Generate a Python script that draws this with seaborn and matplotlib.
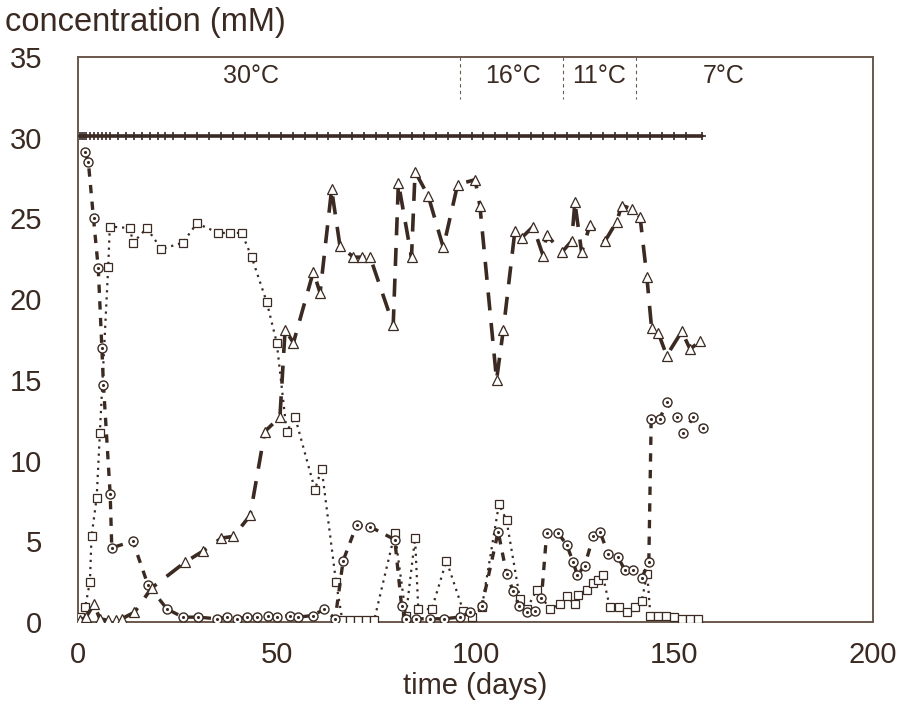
import matplotlib
matplotlib.use("Agg")
import matplotlib.pyplot as plt
import seaborn as sns
import pandas as pd

# ---------------- data ----------------
total_days = [0.5, 1, 1.5, 2, 3, 4, 5, 6, 7, 8, 10, 12, 14, 16, 18, 20, 22, 24,
              27, 30, 33, 36, 39, 42, 45, 48, 51, 54, 57, 60, 63, 66, 69, 72,
              75, 78, 81, 84, 87, 90, 93, 96, 99, 102, 105, 108, 111, 114, 117,
              120, 123, 126, 129, 132, 135, 138, 141, 144, 147, 150, 153, 157]
total_vals = [30.1, 30.1, 30.1, 30.1, 30.1, 30.1, 30.1, 30.1, 30.1, 30.1, 30.1,
              30.1, 30.1, 30.1, 30.1, 30.1, 30.1, 30.1, 30.1, 30.1, 30.1, 30.1,
              30.1, 30.1, 30.1, 30.1, 30.1, 30.1, 30.1, 30.1, 30.1, 30.1, 30.1,
              30.1, 30.1, 30.1, 30.1, 30.1, 30.1, 30.1, 30.1, 30.1, 30.1, 30.1,
              30.1, 30.1, 30.1, 30.1, 30.1, 30.1, 30.1, 30.1, 30.1, 30.1, 30.1,
              30.1, 30.1, 30.1, 30.1, 30.1, 30.1, 30.1]

circle_days = [1.8, 2.6, 3.9, 5.1, 6.0, 6.4, 8.1, 8.5, 13.8, 17.6, 22.4, 26.4,
               30.2, 35.0, 37.5, 40.0, 42.5, 45.0, 47.8, 50.0, 53.3, 55.3, 59.0,
               62.0, 64.7, 66.7, 70.1, 73.5, 79.7, 81.4, 82.5, 85.0, 88.5, 92.0,
               96.0, 98.5, 101.6, 105.7, 107.8, 109.5, 111.0, 113.0, 115.0, 116.6,
               117.9, 120.8, 122.9, 124.6, 125.6, 127.5, 129.6, 131.3, 133.4,
               135.9, 137.6, 139.7, 141.8, 143.6, 144.2, 146.4, 148.1, 150.6,
               152.3, 154.8, 157.2]
circle_vals = [29.1, 28.5, 25.0, 21.9, 17.0, 14.7, 7.9, 4.6, 5.0, 2.3, 0.8, 0.3,
               0.3, 0.2, 0.3, 0.2, 0.3, 0.3, 0.4, 0.3, 0.4, 0.3, 0.4,
               0.8, 0.2, 3.8, 6.0, 5.9, 5.1, 1.0, 0.2, 0.2, 0.2, 0.2,
               0.3, 0.6, 1.0, 5.6, 3.0, 1.9, 1.0, 0.6, 0.7, 1.5,
               5.5, 5.5, 4.8, 3.7, 2.9, 3.5, 5.3, 5.6, 4.2,
               4.0, 3.2, 3.2, 2.7, 3.7, 12.6, 12.6, 13.6, 12.7,
               11.7, 12.7, 12.0]

square_days = [0.5, 1.8, 3.0, 3.4, 4.7, 5.5, 7.6, 8.0, 13.0, 13.9, 17.3, 21.0,
               26.4, 29.9, 35.3, 38.3, 41.2, 43.7, 47.5, 50.0, 52.5, 54.6, 59.6,
               61.3, 64.9, 66.5, 68.5, 70.5, 72.5, 74.5, 79.7, 82.5, 84.8, 85.6,
               89.0, 92.7, 96.9, 99.0, 101.6, 105.9, 107.8, 111.2, 112.9, 115.4,
               118.7, 121.3, 122.9, 125.0, 125.9, 128.0, 129.6, 130.9, 132.0,
               133.8, 136.0, 138.0, 140.0, 141.8, 143.2, 144.0, 146.0, 148.0,
               150.0, 152.0, 154.0, 156.0]
square_vals = [0.3, 0.9, 2.5, 5.3, 7.7, 11.7, 22.0, 24.5, 24.4, 23.5, 24.4, 23.1,
               23.5, 24.7, 24.1, 24.1, 24.1, 22.6, 19.8, 17.3, 11.8, 12.7, 8.2,
               9.5, 2.5, 0.1, 0.1, 0.1, 0.1, 0.1, 5.5, 0.4, 5.2, 0.8,
               0.8, 3.8, 0.7, 0.3, 0.9, 7.3, 6.3, 1.4, 0.8, 2.0,
               0.8, 1.1, 1.6, 1.1, 1.7, 2.0, 2.4, 2.6, 2.9,
               0.9, 0.9, 0.6, 0.9, 1.3, 3.0, 0.4, 0.4, 0.4,
               0.3, 0.2, 0.2, 0.2]

triangle_days = [0.5, 2.0, 4.0, 5.5, 7.5, 9.5, 11.0, 14.2, 18.5, 26.9, 31.5,
                 36.1, 39.1, 43.3, 47.0, 50.8, 52.1, 54.2, 59.2, 60.9, 63.8,
                 65.9, 69.3, 71.5, 73.5, 79.3, 80.6, 83.9, 84.8, 88.1, 91.9,
                 95.5, 99.9, 101.1, 105.3, 107.0, 109.9, 111.6, 114.5, 117.0,
                 117.9, 121.7, 124.2, 125.0, 126.7, 128.8, 132.6, 135.5, 136.8,
                 139.3, 141.4, 143.1, 144.3, 146.0, 148.1, 151.9, 154.0, 156.5]
triangle_vals = [0.1, 0.3, 1.1, 0.2, 0.1, 0.1, 0.2, 0.6, 2.1, 3.7, 4.4,
                 5.2, 5.3, 6.6, 11.8, 12.7, 18.1, 17.3, 21.7, 20.4, 26.8,
                 23.3, 22.6, 22.6, 22.6, 18.4, 27.2, 22.6, 27.9, 26.4, 23.2,
                 27.1, 27.4, 25.8, 15.0, 18.1, 24.2, 23.8, 24.5, 22.7,
                 24.0, 22.9, 23.6, 26.0, 22.9, 24.6, 23.6, 24.8, 25.8,
                 25.6, 25.1, 21.4, 18.2, 17.9, 16.5, 18.0, 16.9, 17.4]

temp_labels = ["30°C", "16°C", "11°C", "7°C"]
temp_label_x = [43.5, 109.5, 131.0, 162.5]
temp_bounds = [96.0, 122.0, 140.5]

x_ticks = [0, 50, 100, 150, 200]
y_ticks = [0, 5, 10, 15, 20, 25, 30, 35]

# ---------------- styling ----------------
sns.set_theme(style="white")
plt.rcParams["font.family"] = ["Liberation Sans", "DejaVu Sans"]

INK = "#3a2a22"
FRAME = "#6a584c"

fig = plt.figure(figsize=(9.02, 7.01), dpi=100)
fig.patch.set_facecolor("white")
ax = fig.add_axes([78 / 902, 1 - 622 / 701, (873 - 78) / 902, (622 - 57) / 701])
ax.set_facecolor("white")

df_total = pd.DataFrame({"day": total_days, "conc": total_vals})
df_circ = pd.DataFrame({"day": circle_days, "conc": circle_vals})
df_sq = pd.DataFrame({"day": square_days, "conc": square_vals})
df_tri = pd.DataFrame({"day": triangle_days, "conc": triangle_vals})

sns.lineplot(data=df_total, x="day", y="conc", ax=ax, sort=False, estimator=None,
             color=INK, linewidth=2.6, linestyle="-", marker="+", markersize=6,
             markeredgecolor=INK, markeredgewidth=1.2, zorder=3)

sns.lineplot(data=df_sq, x="day", y="conc", ax=ax, sort=False, estimator=None,
             color=INK, linewidth=1.6, linestyle=(0, (1, 2.2)), marker="s",
             markersize=6, markerfacecolor="white", markeredgecolor=INK,
             markeredgewidth=0.9, zorder=4)

sns.lineplot(data=df_circ, x="day", y="conc", ax=ax, sort=False, estimator=None,
             color=INK, linewidth=2.4, linestyle=(0, (2.5, 2.5)), marker="o",
             markersize=6.5, markerfacecolor="white", markeredgecolor=INK,
             markeredgewidth=1.0, zorder=5)
# dark centre dots of the circle markers
sns.scatterplot(data=df_circ, x="day", y="conc", ax=ax, color=INK, s=5,
                linewidth=0, zorder=5.5, legend=False)

sns.lineplot(data=df_tri, x="day", y="conc", ax=ax, sort=False, estimator=None,
             color=INK, linewidth=2.6, linestyle=(0, (5, 3.5)), marker="^",
             markersize=7, markerfacecolor="white", markeredgecolor=INK,
             markeredgewidth=0.9, zorder=6)

# temperature period separators and labels
for xb in temp_bounds:
    ax.plot([xb, xb], [35, 32.4], color=FRAME, linewidth=0.8,
            linestyle=(0, (3, 3)), zorder=2)
for lab, xl in zip(temp_labels, temp_label_x):
    ax.text(xl, 33.8, lab, ha="center", va="center", fontsize=18, color=INK)

ax.set_xlim(0, 200)
ax.set_ylim(0, 35)
ax.set_xticks(x_ticks)
ax.set_yticks(y_ticks)
ax.set_xticklabels([str(t) for t in x_ticks], fontsize=21, color=INK)
ax.set_yticklabels([str(t) for t in y_ticks], fontsize=21, color=INK)
ax.tick_params(axis="y", direction="in", length=10, width=1.0, color=FRAME, pad=26)
ax.tick_params(axis="x", direction="in", length=0, pad=14)

for sp in ax.spines.values():
    sp.set_visible(True)
    sp.set_color(FRAME)
    sp.set_linewidth(1.4)

ax.set_xlabel("time (days)", fontsize=21, color=INK, labelpad=2)
ax.set_ylabel("")
fig.text(5 / 902, 1 - 22 / 701, "concentration (mM)", fontsize=23.5, color=INK,
         ha="left", va="center")

fig.savefig("out.png", dpi=100, facecolor="white")
